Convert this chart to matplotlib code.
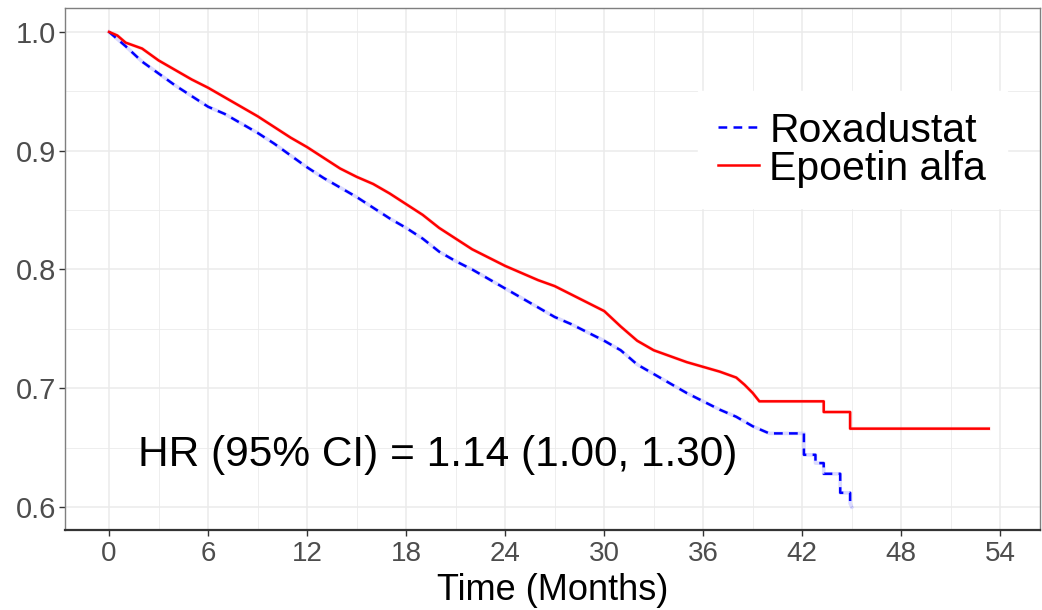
import matplotlib
matplotlib.use("Agg")
from matplotlib import pyplot as plt
from matplotlib.ticker import MultipleLocator

plt.rcParams['font.family'] = ['Liberation Sans', 'DejaVu Sans']

# Kaplan-Meier estimates
# (dense part as read points, sparse tail with its explicit steps)
epo_t = [0, 0.5, 1, 2, 3, 4, 5, 6, 7, 8, 9, 10, 11, 12, 13, 14, 15, 16, 17, 18,
         19, 20, 21, 22, 23, 24, 25, 26, 27, 28, 29, 30, 31, 32, 33, 34, 35, 36,
         37, 38, 38.5, 39, 39.4, 43.3, 43.3, 44.9, 44.9, 53.3]
epo_s = [1.0, 0.997, 0.991, 0.986, 0.976, 0.968, 0.960, 0.953, 0.945, 0.937,
         0.929, 0.920, 0.911, 0.903, 0.894, 0.885, 0.878, 0.872, 0.864, 0.855,
         0.846, 0.835, 0.826, 0.817, 0.810, 0.803, 0.797, 0.791, 0.786, 0.779,
         0.772, 0.765, 0.752, 0.740, 0.732, 0.727, 0.722, 0.718, 0.714, 0.709,
         0.703, 0.696, 0.689, 0.689, 0.680, 0.680, 0.666, 0.666]

roxa_t = [0, 1, 2, 3, 4, 5, 6, 7, 8, 9, 10, 11, 12, 13, 14, 15, 16, 17, 18, 19,
          20, 21, 22, 23, 24, 25, 26, 27, 28, 29, 30, 31, 32, 33, 34, 35, 36,
          37, 38, 39, 40, 42.1, 42.1, 42.8, 42.8, 43.3, 43.3, 44.3, 44.3, 44.9,
          44.9, 45.0]
roxa_s = [1.0, 0.988, 0.975, 0.965, 0.955, 0.946, 0.937, 0.931, 0.923, 0.915,
          0.906, 0.896, 0.886, 0.877, 0.869, 0.861, 0.852, 0.843, 0.835, 0.826,
          0.815, 0.807, 0.800, 0.792, 0.784, 0.776, 0.768, 0.760, 0.754, 0.747,
          0.740, 0.732, 0.720, 0.712, 0.704, 0.696, 0.689, 0.682, 0.676, 0.668,
          0.662, 0.662, 0.644, 0.644, 0.637, 0.637, 0.628, 0.628, 0.612, 0.612,
          0.603, 0.600]

x_ticks = [0, 6, 12, 18, 24, 30, 36, 42, 48, 54]
y_ticks = [0.6, 0.7, 0.8, 0.9, 1.0]
hr_label = "HR (95% CI) = 1.14 (1.00, 1.30)"

fig = plt.figure(figsize=(10.42, 6.10), dpi=100)
ax = fig.add_axes([0.0624, 0.131, 0.9356, 0.856])

# pale halo under each curve (censoring marks in the original)
ax.plot(roxa_t, roxa_s, color='#9999ff', lw=2.6, alpha=0.35)
ax.plot(epo_t, epo_s, color='#ff9999', lw=2.6, alpha=0.35)
ax.plot(roxa_t, roxa_s, color='blue', lw=1.8,
        linestyle=(0, (3.5, 2.5)), label='Roxadustat')
ax.plot(epo_t, epo_s, color='red', lw=1.8, label='Epoetin alfa')

ax.set_xlim(-2.67, 56.4)
ax.set_ylim(0.5806, 1.0202)
ax.set_xticks(x_ticks)
ax.set_yticks(y_ticks)
ax.set_yticklabels([f"{v:.1f}" for v in y_ticks])
ax.xaxis.set_minor_locator(MultipleLocator(3))
ax.yaxis.set_minor_locator(MultipleLocator(0.05))
ax.grid(which='major', color='#EBEBEB', lw=1.1)
ax.grid(which='minor', color='#EBEBEB', lw=0.6)
ax.set_axisbelow(True)
ax.tick_params(which='major', length=4, width=1, color='#333333',
               labelcolor='#4D4D4D', labelsize=20)
ax.tick_params(axis='y', labelsize=21, pad=2.5)
ax.tick_params(which='minor', length=0)

for s in ['top', 'right', 'left']:
    ax.spines[s].set_color('#7F7F7F')
    ax.spines[s].set_linewidth(1)
ax.spines['bottom'].set_color('#333333')
ax.spines['bottom'].set_linewidth(1.6)

ax.set_xlabel('Time (Months)', fontsize=26, labelpad=5)

ax.text(19.9, 0.644, hr_label, fontsize=30.5, ha='center', va='center')

leg = ax.legend(loc='upper left', bbox_to_anchor=(0.628, 0.880), fontsize=29.5,
                frameon=True, fancybox=False, edgecolor='white', framealpha=1,
                handlelength=1.0, handletextpad=0.25, labelspacing=0.0,
                borderpad=0.5)

fig.savefig('out.png', dpi=100)
